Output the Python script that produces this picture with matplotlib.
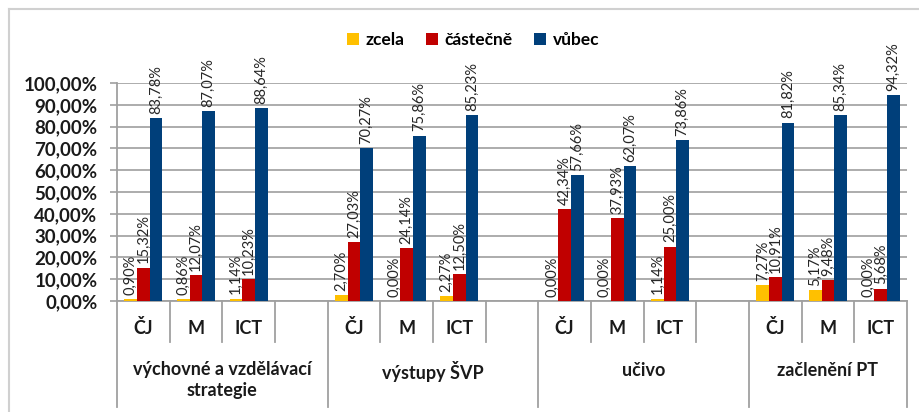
import numpy as np
import matplotlib.pyplot as plt
from matplotlib.lines import Line2D
from matplotlib.patches import Patch
import matplotlib.transforms as mtransforms

# Données du graphique
subjects = ["ČJ", "M", "ICT"]
groups = ["výchovné a vzdělávací\nstrategie", "výstupy ŠVP", "učivo", "začlenění PT"]
series_names = ["zcela", "částečně", "vůbec"]
zcela = [0.90, 0.86, 1.14, 2.70, 0.00, 2.27, 0.00, 0.00, 1.14, 7.27, 5.17, 0.00]
castecne = [15.32, 12.07, 10.23, 27.03, 24.14, 12.50, 42.34, 37.93, 25.00, 10.91, 9.48, 5.68]
vubec = [83.78, 87.07, 88.64, 70.27, 75.86, 85.23, 57.66, 62.07, 73.86, 81.82, 85.34, 94.32]
colors = ["#ffc000", "#c00000", "#003f7a"]

plt.rcParams['font.family'] = ['Lato', 'DejaVu Sans']

fig = plt.figure(figsize=(9.2, 4.12), dpi=100)
ax = fig.add_axes([117/920, 1-301/412, (907-117)/920, (301-83)/412])

# positions des emplacements : 4 par groupe, le dernier groupe n'en a que 3
slots = []
for g in range(len(groups)):
    for s in range(len(subjects)):
        slots.append(g*4 + s + 0.5)
slots = np.array(slots)
n_slots = 15

w = 0.24
for k, (vals, col) in enumerate(zip([zcela, castecne, vubec], colors)):
    x = slots + (k-1)*w
    ax.bar(x, vals, width=w, color=col, zorder=3)
    for xi, v in zip(x, vals):
        ax.annotate(f"{v:.2f}%".replace(".", ","), (xi, v), xytext=(0, 3),
                    textcoords="offset points", rotation=90, ha="center", va="bottom",
                    fontsize=10.5, color="#262626")

ax.set_xlim(0, n_slots)
ax.set_ylim(0, 100)
ax.set_yticks(np.arange(0, 101, 10))
ax.set_yticklabels([f"{t},00%" for t in range(0, 101, 10)], fontsize=13.5, fontweight="bold",
                   color="#1a1a1a")
ax.tick_params(axis="y", length=5, width=1.2, color="#a0a0a0", pad=9)
ax.tick_params(axis="x", length=0, labelbottom=False)
ax.grid(True, axis="y", color="#a6a6a6", linewidth=1.3, zorder=0)
for sp in ["top", "right"]:
    ax.spines[sp].set_visible(False)
for sp in ["left", "bottom"]:
    ax.spines[sp].set_color("#a0a0a0")
    ax.spines[sp].set_linewidth(1.3)

# axe de catégories à deux niveaux
trans = mtransforms.blended_transform_factory(ax.transData, fig.transFigure)
y_short = 1 - 342/412
y_long = 1 - 407/412
for i in range(n_slots + 1):
    y_end = y_long if i % 4 == 0 or i == n_slots else y_short
    ax.add_line(Line2D([i, i], [1-301/412, y_end], transform=trans, color="#a0a0a0",
                       linewidth=1.3, clip_on=False))
for xs in slots:
    idx = int(xs) % 4
    ax.text(xs, 1-328/412, subjects[idx], transform=trans, ha="center", va="center",
            fontsize=13, fontweight="bold", color="#1a1a1a")
for g, name in enumerate(groups):
    cx = g*4 + (2 if g < 3 else 1.5)
    if "\n" in name:
        ax.text(cx, 1-361/412, name, transform=trans, ha="center", va="top",
                fontsize=13, fontweight="bold", color="#1a1a1a", linespacing=1.3)
    else:
        ax.text(cx, 1-371/412, name, transform=trans, ha="center", va="center",
                fontsize=13, fontweight="bold", color="#1a1a1a")

# légende
handles = [Patch(facecolor=c, label=n) for c, n in zip(colors, series_names)]
fig.legend(handles=handles, loc="center", bbox_to_anchor=(473/920, 1-40/412), ncol=3,
           frameon=False, handlelength=0.7, handleheight=0.7, handletextpad=0.4,
           columnspacing=1.2, prop={"weight": "bold", "size": 12.5})

# cadre
fig.add_artist(Line2D([9/920, 1], [1-9/412, 1-9/412], color="#d0d0d0", linewidth=1.5))
fig.add_artist(Line2D([9/920, 9/920], [0, 1-9/412], color="#d0d0d0", linewidth=1.5))

fig.savefig("out.png", dpi=100)
